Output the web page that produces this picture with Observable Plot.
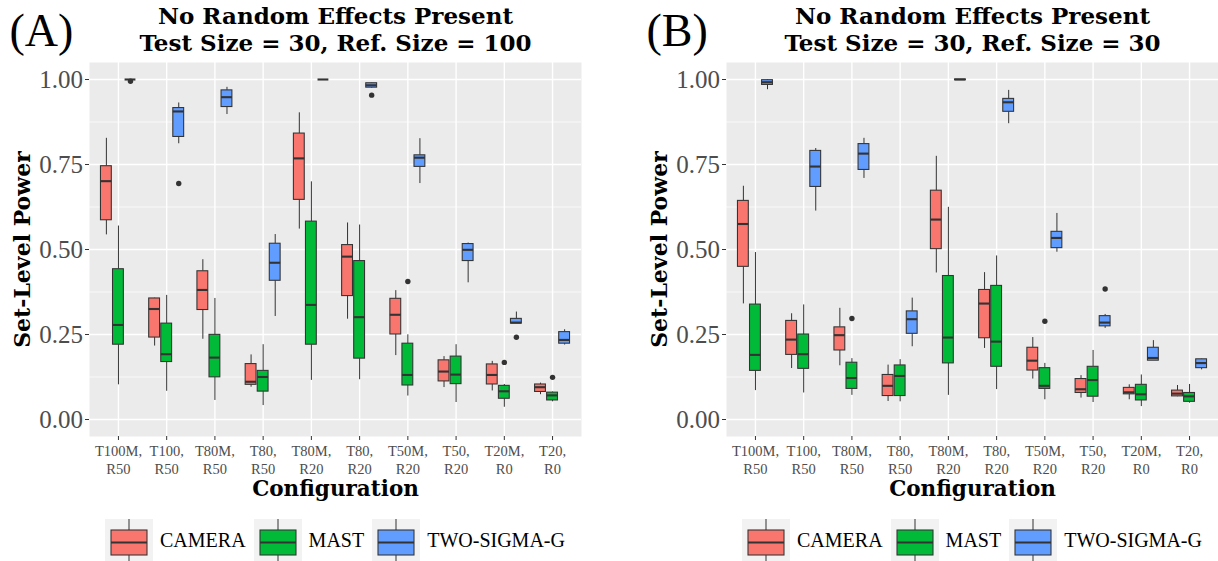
<!DOCTYPE html>
<html>
<head>
<meta charset="utf-8">
<script src="https://cdn.jsdelivr.net/npm/d3@7"></script>
<script src="https://cdn.jsdelivr.net/npm/@observablehq/plot@0.6"></script>
<style>
  body { margin: 0; background: #fff; }
  #chart { position: relative; width: 1218px; height: 561px; overflow: hidden; font-family: "Liberation Serif", "Times New Roman", serif; }
  .panel { position: absolute; top: 0; }
  .legend { position: absolute; top: 519px; width: 492px; height: 42px; display: flex; justify-content: center; align-items: center; }
  .legend .item { display: flex; align-items: center; margin: 0 4px; }
  .legend .label { font-family: "Liberation Serif", "Times New Roman", serif; font-size: 20px; margin-left: 7px; color: #000; white-space: nowrap; }
  .legend svg { display: block; }
</style>
</head>
<body>
<div id="chart"></div>
<script>
// Simulation configurations (x axis), one label per box group
const configs = ["T100M,\nR50", "T100,\nR50", "T80M,\nR50", "T80,\nR50", "T80M,\nR20",
                 "T80,\nR20", "T50M,\nR20", "T50,\nR20", "T20M,\nR0", "T20,\nR0"];
const methods = ["CAMERA", "MAST", "TWO-SIGMA-G"];
const methodColors = ["#F8766D", "#00BA38", "#619CFF"];
const yBreaks = [0, 0.25, 0.5, 0.75, 1];

// Box summaries per configuration: [lower whisker, Q1, median, Q3, upper whisker]
// Reference size = 100
const cameraRef100 = [
  [0.543, 0.586, 0.701, 0.745, 0.827], [0.216, 0.241, 0.325, 0.356, 0.357],
  [0.236, 0.322, 0.381, 0.436, 0.470], [0.095, 0.102, 0.111, 0.163, 0.190],
  [0.560, 0.646, 0.768, 0.841, 0.902], [0.295, 0.363, 0.479, 0.513, 0.578],
  [0.188, 0.250, 0.308, 0.355, 0.379], [0.094, 0.112, 0.141, 0.174, 0.185],
  [0.084, 0.103, 0.131, 0.162, 0.171], [0.073, 0.081, 0.095, 0.103, 0.107]
];
const mastRef100 = [
  [0.102, 0.220, 0.278, 0.442, 0.569], [0.083, 0.169, 0.192, 0.282, 0.365],
  [0.056, 0.124, 0.182, 0.249, 0.356], [0.041, 0.082, 0.125, 0.143, 0.220],
  [0.115, 0.220, 0.337, 0.582, 0.699], [0.117, 0.179, 0.301, 0.466, 0.572],
  [0.069, 0.100, 0.131, 0.223, 0.249], [0.050, 0.104, 0.132, 0.185, 0.220],
  [0.036, 0.061, 0.083, 0.099, 0.103], [0.052, 0.056, 0.071, 0.079, 0.081]
];
const twoSigmaRef100 = [
  [1.000, 1.000, 1.000, 1.000, 1.000], [0.811, 0.831, 0.906, 0.916, 0.931],
  [0.897, 0.919, 0.948, 0.968, 0.977], [0.303, 0.408, 0.461, 0.517, 0.544],
  [1.000, 1.000, 1.000, 1.000, 1.000], [0.974, 0.976, 0.983, 0.989, 0.990],
  [0.694, 0.743, 0.770, 0.777, 0.826], [0.402, 0.466, 0.499, 0.516, 0.519],
  [0.282, 0.282, 0.285, 0.296, 0.316], [0.219, 0.223, 0.234, 0.257, 0.264]
];
// Outlying runs: [configuration index, method index, power]
const outliersRef100 = [
  [0, 2, 0.995], [1, 2, 0.694], [5, 2, 0.954], [6, 1, 0.406],
  [8, 1, 0.168], [8, 2, 0.242], [9, 1, 0.124]
];

// Reference size = 30
const cameraRef30 = [
  [0.340, 0.449, 0.575, 0.643, 0.686], [0.150, 0.190, 0.235, 0.290, 0.311],
  [0.158, 0.203, 0.248, 0.271, 0.327], [0.053, 0.069, 0.099, 0.131, 0.160],
  [0.431, 0.501, 0.588, 0.673, 0.774], [0.209, 0.239, 0.341, 0.381, 0.432],
  [0.119, 0.144, 0.173, 0.211, 0.241], [0.063, 0.078, 0.089, 0.119, 0.129],
  [0.058, 0.074, 0.080, 0.093, 0.102], [0.067, 0.068, 0.076, 0.085, 0.100]
];
const mastRef30 = [
  [0.085, 0.143, 0.190, 0.338, 0.491], [0.078, 0.149, 0.192, 0.250, 0.337],
  [0.071, 0.090, 0.122, 0.167, 0.179], [0.052, 0.069, 0.128, 0.159, 0.176],
  [0.071, 0.165, 0.241, 0.422, 0.624], [0.088, 0.155, 0.229, 0.393, 0.481],
  [0.058, 0.090, 0.099, 0.151, 0.165], [0.050, 0.067, 0.116, 0.155, 0.203],
  [0.038, 0.056, 0.074, 0.102, 0.131], [0.048, 0.052, 0.068, 0.078, 0.103]
];
const twoSigmaRef30 = [
  [0.970, 0.984, 0.992, 0.998, 1.000], [0.613, 0.684, 0.744, 0.790, 0.797],
  [0.709, 0.734, 0.782, 0.810, 0.827], [0.214, 0.252, 0.295, 0.318, 0.357],
  [0.998, 0.998, 1.000, 1.000, 1.000], [0.870, 0.905, 0.933, 0.943, 0.968],
  [0.492, 0.504, 0.534, 0.552, 0.606], [0.268, 0.274, 0.285, 0.304, 0.309],
  [0.173, 0.173, 0.181, 0.211, 0.232], [0.146, 0.151, 0.166, 0.177, 0.178]
];
const outliersRef30 = [
  [2, 1, 0.297], [6, 1, 0.289], [7, 2, 0.384]
];

const dodge = 0.25;      // spacing between the three boxes of a group
const halfBox = 0.1125;  // half box width, in category units
const ink = "#333333";
const serif = "'Liberation Serif', 'Times New Roman', serif";
const titleFont = "'DejaVu Serif', serif";

function panel({tag, subtitle, stats, outliers}) {
  const rows = stats.flatMap((s, j) => s.map(([lo, q1, med, q3, hi], i) => ({
    i, method: methods[j], pos: i + (j - 1) * dodge, lo, q1, med, q3, hi
  })));
  const points = outliers.map(([i, j, v]) => ({pos: i + (j - 1) * dodge, v}));
  const minor = d3.pairs(yBreaks, (a, b) => (a + b) / 2);
  const ticksX = d3.range(configs.length);

  return Plot.plot({
    width: 581,
    height: 500,
    marginLeft: 89,
    marginRight: 0,
    marginTop: 62,
    marginBottom: 64,
    x: {domain: [-0.6, configs.length - 0.4]},
    y: {domain: [-0.05, 1.05]},
    color: {domain: methods, range: methodColors},
    style: {fontFamily: serif, fontSize: "14.5px", background: "transparent", overflow: "visible"},
    marks: [
      Plot.frame({fill: "#ebebeb", stroke: null}),
      Plot.gridY(minor, {stroke: "white", strokeOpacity: 1, strokeWidth: 0.7}),
      Plot.gridY(yBreaks, {stroke: "white", strokeOpacity: 1, strokeWidth: 1.4}),
      Plot.gridX(ticksX, {stroke: "white", strokeOpacity: 1, strokeWidth: 1.4}),
      Plot.axisY(yBreaks, {
        tickFormat: d3.format(".2f"), fontSize: 25, fontFamily: serif, tickSize: 4, tickPadding: 2.5,
        stroke: ink, fill: "#4d4d4d", label: null
      }),
      Plot.axisX(ticksX, {
        tickFormat: i => configs[i], fontSize: 14.5, fontFamily: serif, lineHeight: 1.25,
        tickSize: 4, tickPadding: 2.5, stroke: ink, fill: "#4d4d4d", label: null
      }),
      // whiskers
      Plot.ruleX(rows, {x: "pos", y1: "lo", y2: "q1", stroke: ink, strokeWidth: 1}),
      Plot.ruleX(rows, {x: "pos", y1: "q3", y2: "hi", stroke: ink, strokeWidth: 1}),
      // boxes and medians
      Plot.rect(rows, {
        x1: d => d.pos - halfBox, x2: d => d.pos + halfBox, y1: "q1", y2: "q3",
        fill: "method", stroke: ink, strokeWidth: 1.07
      }),
      Plot.ruleY(rows, {
        y: "med", x1: d => d.pos - halfBox, x2: d => d.pos + halfBox, stroke: ink, strokeWidth: 2.1
      }),
      Plot.dot(points, {x: "pos", y: "v", r: 2.7, fill: ink, stroke: null}),
      // panel tag, titles and axis titles
      Plot.text([tag], {
        frameAnchor: "top-left", dx: -80, dy: -17, textAnchor: "start", lineAnchor: "bottom",
        fontSize: 46, fontFamily: serif, fill: "#000"
      }),
      Plot.text(["No Random Effects Present"], {
        frameAnchor: "top", dy: -38.5, lineAnchor: "bottom",
        fontSize: 23, fontWeight: "bold", fontFamily: titleFont, fill: "#000"
      }),
      Plot.text([subtitle], {
        frameAnchor: "top", dy: -12, lineAnchor: "bottom",
        fontSize: 23, fontWeight: "bold", fontFamily: titleFont, fill: "#000"
      }),
      Plot.text(["Set-Level Power"], {
        frameAnchor: "left", dx: -67, rotate: -90, textAnchor: "middle",
        fontSize: 22, fontWeight: "bold", fontFamily: titleFont, fill: "#000"
      }),
      Plot.text(["Configuration"], {
        frameAnchor: "bottom", dy: 59, lineAnchor: "bottom",
        fontSize: 21.5, fontWeight: "bold", fontFamily: titleFont, fill: "#000"
      })
    ]
  });
}

function legend() {
  const div = document.createElement("div");
  div.className = "legend";
  methods.forEach((m, j) => {
    const item = document.createElement("div");
    item.className = "item";
    const key = d3.create("svg").attr("width", 48).attr("height", 42);
    key.append("rect").attr("width", 48).attr("height", 42).attr("fill", "#f2f2f2");
    key.append("line").attr("x1", 24).attr("x2", 24).attr("y1", 0).attr("y2", 42)
      .attr("stroke", ink).attr("stroke-width", 1);
    key.append("rect").attr("x", 6).attr("y", 11).attr("width", 36).attr("height", 25)
      .attr("fill", methodColors[j]).attr("stroke", ink).attr("stroke-width", 1.07);
    key.append("line").attr("x1", 6).attr("x2", 42).attr("y1", 23.5).attr("y2", 23.5)
      .attr("stroke", ink).attr("stroke-width", 2.1);
    item.appendChild(key.node());
    const label = document.createElement("span");
    label.className = "label";
    label.textContent = m;
    item.appendChild(label);
    div.appendChild(item);
  });
  return div;
}

const chart = document.getElementById("chart");
const panels = [
  {tag: "(A)", subtitle: "Test Size = 30, Ref. Size = 100",
   stats: [cameraRef100, mastRef100, twoSigmaRef100], outliers: outliersRef100, left: 0},
  {tag: "(B)", subtitle: "Test Size = 30, Ref. Size = 30",
   stats: [cameraRef30, mastRef30, twoSigmaRef30], outliers: outliersRef30, left: 637}
];
for (const p of panels) {
  const svg = panel(p);
  svg.classList.add("panel");
  svg.style.left = p.left + "px";
  chart.appendChild(svg);
  const lg = legend();
  lg.style.left = (p.left + 89) + "px";
  chart.appendChild(lg);
}
</script>
</body>
</html>
